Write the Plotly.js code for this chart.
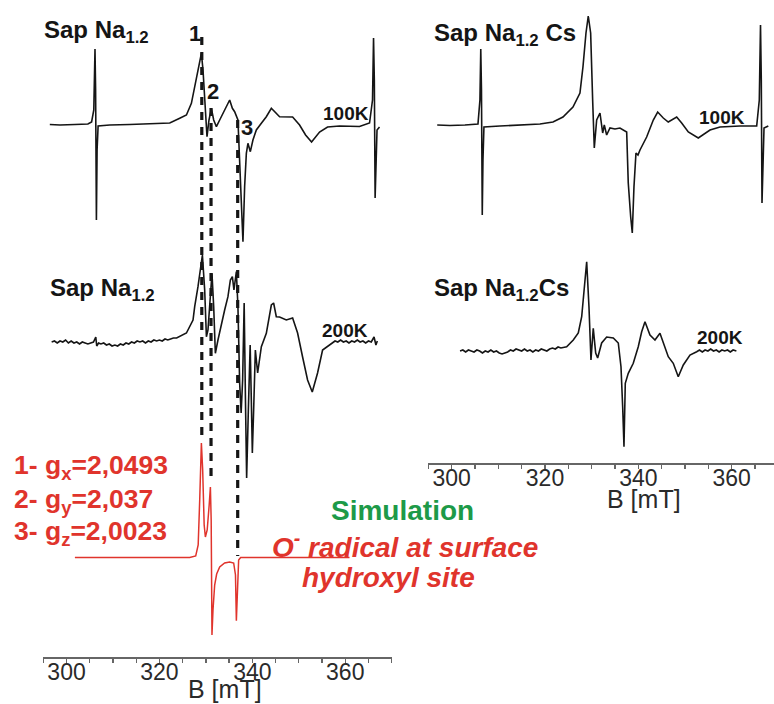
<!DOCTYPE html>
<html>
<head>
<meta charset="utf-8">
<script src="https://cdn.plot.ly/plotly-3.0.1.min.js"></script>
<style>html,body{margin:0;padding:0;background:#fff}#chart{width:774px;height:704px}</style>
</head>
<body>
<div id="chart"></div>
<script>
// ---------------- DATA (magnetic field B in mT, EPR intensity in arbitrary units) ----------------
// Sap Na1.2, 100 K
const B_NA_100K = [
  296.4, 298.6, 301.8, 304.6, 305.4, 305.87, 306.13, 306.26, 306.43, 306.58,
  306.80, 309.31, 313.61, 317.91, 322.22, 324.37, 325.81, 326.88, 327.59, 328.30,
  329.03, 329.38, 329.74, 330.24, 330.67, 331.18, 331.68, 332.26, 332.97, 334.04,
  335.12, 335.70, 336.19, 336.90, 337.27, 337.63, 337.98, 338.34, 338.71, 339.05,
  339.57, 340.13, 340.86, 341.94, 343.01, 344.09, 345.16, 345.87, 348.67, 350.17,
  351.46, 352.75, 354.47, 356.19, 358.77, 363.07, 365.23, 365.87, 366.09, 366.26,
  366.43, 366.62, 366.84, 367.38
];
const I_NA_100K = [
  0.5, 0, 0.5, 1, 3, 15, 76, 35, -95, -25,
  -1, 0, 0.5, 1, 2, 6.7, 10, 21.7, 38.3, 58.3,
  71.7, 55, 21.7, -11.7, 5, 16.7, 5, -1.7, 5, 15,
  25, 16.7, 13.3, 5, -35, -85, -116.7, -61.7, -28.3, -18.3,
  -26.7, -15, -5, 1.7, 8.3, 16.7, 11.7, 8.3, 8, 0,
  -10, -17, -7, -2, -1, -1.5, 2, 25, 87, 45,
  -73, -25, -5, -2
];

// Sap Na1.2, 200 K
const B_NA_200K = [
  296.8, 297.4, 298.0, 298.6, 299.2, 299.8, 300.4, 301.0, 301.6, 302.2,
  302.8, 303.4, 304.0, 304.6, 305.2, 305.8, 306.3, 306.5, 306.9, 307.4,
  308.0, 308.6, 309.2, 309.8, 310.4, 311.0, 311.6, 312.2, 312.8, 313.4,
  314.0, 314.6, 315.2, 315.8, 316.4, 317.0, 317.6, 318.2, 318.8, 319.4,
  320.0, 320.6, 321.2, 321.8, 322.4, 323.0, 323.7, 325.81, 327.23, 327.59,
  328.30, 329.03, 329.25, 329.74, 330.11, 330.45, 330.97, 331.31, 331.68, 332.04,
  332.60, 333.33, 334.04, 334.75, 335.27, 335.70, 336.04, 336.56, 336.90, 337.27,
  337.59, 337.91, 338.24, 338.52, 338.77, 339.14, 339.53, 339.78, 340.00, 340.28,
  340.65, 341.14, 341.94, 343.01, 344.09, 344.58, 345.16, 345.87, 347.31, 348.67,
  349.74, 350.82, 351.89, 352.90, 354.04, 355.12, 356.62, 357.2, 357.8, 358.4,
  359.0, 359.6, 360.2, 360.8, 361.4, 362.0, 362.6, 363.2, 363.8, 364.4,
  365.0, 365.6, 366.2, 366.6, 366.9
];
const I_NA_200K = [
  0, 1, -1, 1, 0, 2, -1, 1, -1, 0,
  -2, 0, -1, -2, -1, 0, 5, -4, -1, -2,
  -1, -3, -2, -4, -3, -4, -2, -3, -1, -2,
  0, -1, 1, 0, 1, -1, 1, 0, 2, 1,
  2, 1, 3, 2, 3, 4, 4, 9, 22, 35.3,
  55.3, 82, 87, 52, 5.3, 12, 48.7, 68.7, 35.3, -11.3,
  2, 18.7, 32, 45.3, 62, 65.3, 52, 70.3, 35.3, -41.3,
  -71, -38, 39, -58, -136, -68, -3, -58, -111, -68,
  -8, -31, -4.7, 8.7, 37, 39, 25.3, 25, 22, 24,
  9, -15, -38, -50, -31, -8, -3, -1, 1, 0,
  2, 0, 1, -1, 1, 0, 2, 0, 1, -1,
  1, 0, 5, -3, 1
];

// Simulation: O- radical at surface hydroxyl site
const B_SIM = [
  301.80, 326.52, 327.81, 328.34, 328.67, 329.03, 329.31, 329.63, 329.89, 330.28,
  330.71, 330.97, 331.14, 331.31, 331.53, 331.89, 332.32, 332.97, 334.04, 335.12,
  335.98, 336.37, 336.56, 336.77, 337.05, 337.48, 360.92
];
const I_SIM = [
  0, 0, 1.5, 12.5, 57.5, 114.5, 87.5, 32.5, 20.5, 27.5,
  52.5, 70.5, 37.5, -77.5, -52.5, -27.5, -16.5, -9.5, -5.5, -4.5,
  -5.5, -17.5, -63.2, -32.5, -2.5, 0, 0
];
const G_VALUES = [2.0493, 2.037, 2.0023];
const G_NAMES = ['x', 'y', 'z'];
const MW_FREQ_GHZ = 9.44;

// Sap Na1.2 Cs, 100 K
const B_CS_100K = [
  296.91, 299.64, 302.85, 305.64, 306.06, 306.24, 306.39, 306.56, 306.71, 306.92,
  310.35, 314.63, 318.92, 321.71, 323.85, 325.99, 327.49, 328.13, 328.78, 329.27,
  329.78, 330.21, 330.56, 331.07, 331.78, 332.36, 332.70, 333.21, 333.92, 334.99,
  336.06, 337.50, 337.84, 338.36, 338.70, 339.06, 339.49, 339.92, 340.35, 341.78,
  343.20, 344.14, 345.34, 346.41, 348.21, 349.28, 350.70, 352.84, 355.35, 357.49,
  361.78, 365.35, 365.91, 366.17, 366.34, 366.49, 366.71, 366.92, 367.84
];
const I_CS_100K = [
  0.5, 0, 0.5, 1.5, 25.5, 76.5, 35.5, -89.5, -34.5, -1.5,
  -0.5, 0.5, 1.5, 3.5, 8.5, 18.5, 32.5, 58.5, 92.5, 109.5,
  92.5, 25.5, -22.5, 5.5, 12.5, -7.5, 0.5, -9.5, -2.5, -3.5,
  -2.5, -6.5, -57.5, -91.5, -107.5, -61.5, -27.5, -29.5, -24.5, -11.5,
  5.5, 13.5, 7.5, 3.5, 8.5, 2.5, -6.5, -12.5, -4.5, -1.5,
  -0.5, -0.5, 25.5, 100.5, 45.5, -77.5, -24.5, -2.5, -0.5
];

// Sap Na1.2 Cs, 200 K
const B_CS_200K = [
  301.8, 302.4, 303.0, 303.6, 304.2, 304.8, 305.4, 306.0, 306.6, 307.2,
  307.8, 308.4, 309.0, 309.6, 310.2, 310.8, 311.4, 312.0, 312.6, 313.2,
  313.8, 314.4, 315.0, 315.6, 316.2, 316.8, 317.4, 318.0, 318.6, 319.2,
  319.8, 320.4, 321.0, 321.6, 322.2, 322.8, 323.4, 324.64, 326.06, 327.13,
  327.86, 328.35, 328.93, 329.42, 329.85, 330.34, 330.86, 331.28, 332.14, 333.21,
  334.63, 335.70, 336.28, 336.64, 336.92, 337.20, 337.84, 338.91, 339.98, 340.71,
  341.42, 342.49, 343.56, 344.63, 345.70, 346.41, 347.48, 348.55, 349.63, 351.06,
  352.50, 353.1, 353.7, 354.3, 354.9, 355.5, 356.1, 356.7, 357.3, 357.9,
  358.5, 359.1, 359.7, 360.3, 361.0
];
const I_CS_200K = [
  0, 1, -1, 1, 0, -1, 1, 0, -2, 0,
  -1, 1, -1, 0, -2, -3, -2, -1, 1, 0,
  2, 1, 0, 2, 0, 1, -1, 1, 0, 2,
  1, 0, 2, 3, 2, 4, 3, 4.3, 11, 18,
  34.3, 61, 89.3, 44.3, -9, 22.7, -2, -7, 8, 14,
  13, 8, -15.7, -55.7, -95.7, -32.3, -22.3, -12.3, 4.3, 19.3,
  29.3, 16, 11, 17.7, 4.3, -5.7, -12.3, -25.7, -14, -4,
  -0.7, 1, -1, 1, 0, 2, 0, 1, -1, 1,
  0, 1, -1, 1, 0
];

// ---------------- LAYOUT CONSTANTS ----------------
const W = 774, H = 704;
const LEFT_AXIS_PX = 657, RIGHT_AXIS_PX = 463.3;
// vertical baselines (in plot units above each axis line)
const OFF_NA_100K = 657 - 125, OFF_NA_200K = 657 - 342, OFF_SIM = 657 - 557.5;
const OFF_CS_100K = 463.3 - 125.5, OFF_CS_200K = 463.3 - 351;

const BLACK = '#151515', RED = '#e0342c', GREEN = '#1d9a48';
const FONT = 'Liberation Sans, Arial, Helvetica, sans-serif';

function shift(arr, off) { return arr.map(v => v + off); }
function line(x, y, xa, ya, color, w) {
  const n = Math.min(x.length, y.length);
  return { type: 'scatter', mode: 'lines', x: x.slice(0, n), y: y.slice(0, n), xaxis: xa, yaxis: ya,
           line: { color: color, width: w }, hoverinfo: 'skip', showlegend: false };
}

const traces = [
  line(B_NA_100K, shift(I_NA_100K, OFF_NA_100K), 'x', 'y', BLACK, 1.6),
  line(B_NA_200K, shift(I_NA_200K, OFF_NA_200K), 'x', 'y', BLACK, 1.6),
  line(B_SIM, shift(I_SIM, OFF_SIM), 'x', 'y', RED, 1.5),
  line(B_CS_100K, shift(I_CS_100K, OFF_CS_100K), 'x2', 'y2', BLACK, 1.6),
  line(B_CS_200K, shift(I_CS_200K, OFF_CS_200K), 'x2', 'y2', BLACK, 1.6)
];

// resonance field of each g component: B = h*nu / (g * muB)
const H_PLANCK = 6.62607e-34, MU_B = 9.27401e-24;
const B_RES = G_VALUES.map(g => H_PLANCK * MW_FREQ_GHZ * 1e9 / (g * MU_B) * 1000);
const DASH_SPANS = [[657 - 37, 657 - 440], [657 - 108, 657 - 478], [657 - 120, 657 - 556]];
const shapes = B_RES.map((b, i) => ({
  type: 'line', xref: 'x', yref: 'y', x0: b, x1: b, y0: DASH_SPANS[i][0], y1: DASH_SPANS[i][1],
  line: { color: BLACK, width: 3.2, dash: '8px,7px' }
}));

function ann(text, px, py, opts) {
  return Object.assign({
    text: text, x: px / W, y: 1 - py / H, xref: 'paper', yref: 'paper',
    showarrow: false, xanchor: 'center', yanchor: 'middle',
    font: { family: FONT, size: 24, color: BLACK, weight: 'bold' }
  }, opts || {});
}
const bold = (size, color) => ({ family: FONT, size: size, color: color || BLACK, weight: 'bold' });
const boldItalic = (size, color) => ({ family: FONT, size: size, color: color, weight: 'bold', style: 'italic' });

const gText = G_VALUES.map((g, i) => (i + 1) + '- g<sub>' + G_NAMES[i] + '</sub>=' + String(g).replace('.', ','));

const annotations = [
  ann('Sap Na<sub>1.2</sub>', 42, 31, { xanchor: 'left', font: bold(24) }),
  ann('1', 195, 33, { font: bold(22) }),
  ann('2', 213, 92, { font: bold(22) }),
  ann('3', 247, 127, { font: bold(22) }),
  ann('100K', 346, 113, { font: bold(19) }),
  ann('Sap Na<sub>1.2</sub>', 48, 289, { xanchor: 'left', font: bold(24) }),
  ann('200K', 345, 330, { font: bold(19) }),
  ann('Sap Na<sub>1.2</sub> Cs', 432, 34, { xanchor: 'left', font: bold(24) }),
  ann('100K', 722, 117, { font: bold(19) }),
  ann('Sap Na<sub>1.2</sub>Cs', 432, 289, { xanchor: 'left', font: bold(24) }),
  ann('200K', 720, 337, { font: bold(19) }),
  ann(gText[0], 12, 467, { xanchor: 'left', font: bold(26.5, RED) }),
  ann(gText[1], 12, 501, { xanchor: 'left', font: bold(26.5, RED) }),
  ann(gText[2], 12, 533, { xanchor: 'left', font: bold(26.5, RED) }),
  ann('Simulation', 403, 510, { font: bold(28, GREEN) }),
  ann('O<sup>-</sup> radical at surface', 405, 545, { font: boldItalic(28, RED) }),
  ann('hydroxyl site', 388, 577, { font: boldItalic(28, RED) }),
  ann('B [mT]', 225, 689, { font: { family: FONT, size: 25, color: '#2a2a2a' } }),
  ann('B [mT]', 644, 499, { font: { family: FONT, size: 25, color: '#2a2a2a' } })
];

const xaxisCommon = {
  showgrid: false, zeroline: false, showline: true, linecolor: '#666', linewidth: 1.5,
  ticks: 'outside', ticklen: 4, tickwidth: 1.3, tickcolor: '#666',
  tickmode: 'linear', tick0: 300, dtick: 20, ticklabelstandoff: -10,
  minor: { ticks: 'outside', dtick: 5, tick0: 300, ticklen: 4, tickwidth: 1.3, tickcolor: '#666', showgrid: false },
  tickfont: { family: FONT, size: 23, color: '#2a2a2a' }, fixedrange: true
};

const layout = {
  width: W, height: H, margin: { l: 0, r: 0, t: 0, b: 0 },
  paper_bgcolor: '#fff', plot_bgcolor: 'rgba(0,0,0,0)', showlegend: false,
  xaxis: Object.assign({}, xaxisCommon, { domain: [43.3 / W, 391.7 / W], range: [295, 370], anchor: 'y' }),
  yaxis: { domain: [1 - LEFT_AXIS_PX / H, 1], range: [0, LEFT_AXIS_PX], visible: false, anchor: 'x', fixedrange: true },
  xaxis2: Object.assign({}, xaxisCommon, { domain: [428.3 / W, 1], range: [295, 369.06], anchor: 'y2' }),
  yaxis2: { domain: [1 - RIGHT_AXIS_PX / H, 1], range: [0, RIGHT_AXIS_PX], visible: false, anchor: 'x2', fixedrange: true },
  shapes: shapes,
  annotations: annotations
};

Plotly.newPlot('chart', traces, layout, { staticPlot: true, displayModeBar: false });
</script>
</body>
</html>
